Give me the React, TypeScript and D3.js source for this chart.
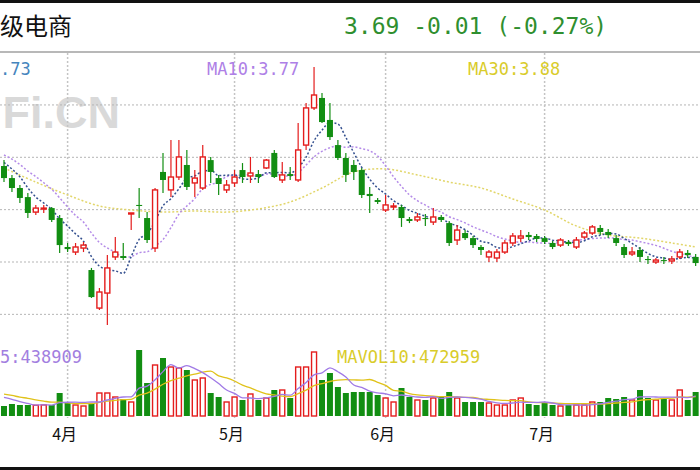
import React from 'react';
import * as d3 from 'd3';

const W = 700;
const H = 470;

// OHLC (price units)
const opens = [4.250, 4.181, 4.124, 4.072, 3.986, 4.004, 4.009, 3.952, 3.786, 3.757,
  3.780, 3.654, 3.436, 3.522, 3.729, 3.734, 3.975, 4.027, 3.952, 3.780,
  4.216, 4.113, 4.187, 4.256, 4.153, 4.124, 4.284, 4.181, 4.113, 4.153,
  4.227, 4.193, 4.204, 4.239, 4.325, 4.170, 4.204, 4.170, 4.370, 4.583,
  4.640, 4.514, 4.370, 4.296, 4.256, 4.227, 4.090, 4.055, 3.998, 4.015,
  4.015, 3.946, 3.941, 3.952, 3.929, 3.958, 3.923, 3.826, 3.866, 3.837,
  3.786, 3.729, 3.723, 3.757, 3.809, 3.837, 3.855, 3.849, 3.837, 3.809,
  3.797, 3.815, 3.786, 3.843, 3.866, 3.895, 3.872, 3.837, 3.786, 3.746,
  3.769, 3.717, 3.700, 3.711, 3.706, 3.729, 3.752, 3.729];
const closes = [4.181, 4.124, 4.067, 3.981, 4.009, 4.009, 3.941, 3.797, 3.774, 3.786,
  3.797, 3.499, 3.528, 3.666, 3.757, 3.723, 3.981, 4.021, 3.826, 4.113,
  4.170, 4.187, 4.302, 4.130, 4.181, 4.302, 4.216, 4.147, 4.141, 4.187,
  4.187, 4.210, 4.187, 4.284, 4.187, 4.199, 4.193, 4.342, 4.583, 4.657,
  4.502, 4.416, 4.296, 4.199, 4.216, 4.084, 4.078, 4.044, 4.027, 4.021,
  3.952, 3.935, 3.958, 3.946, 3.958, 3.941, 3.809, 3.883, 3.837, 3.797,
  3.769, 3.757, 3.757, 3.809, 3.849, 3.849, 3.843, 3.832, 3.815, 3.786,
  3.826, 3.803, 3.826, 3.866, 3.901, 3.872, 3.855, 3.809, 3.740, 3.757,
  3.729, 3.711, 3.711, 3.706, 3.717, 3.757, 3.740, 3.694];
const highs = [4.284, 4.199, 4.141, 4.095, 4.027, 4.027, 4.015, 3.969, 3.809, 3.809,
  3.815, 3.666, 3.551, 3.740, 3.843, 3.809, 3.981, 4.124, 3.986, 4.124,
  4.325, 4.399, 4.399, 4.342, 4.227, 4.370, 4.302, 4.199, 4.170, 4.227,
  4.267, 4.302, 4.227, 4.290, 4.342, 4.273, 4.244, 4.497, 4.611, 4.817,
  4.668, 4.611, 4.399, 4.325, 4.284, 4.239, 4.130, 4.067, 4.084, 4.038,
  4.027, 3.958, 3.981, 3.975, 4.009, 3.969, 3.935, 3.912, 3.883, 3.849,
  3.797, 3.769, 3.774, 3.826, 3.866, 3.883, 3.872, 3.860, 3.849, 3.820,
  3.837, 3.826, 3.843, 3.878, 3.912, 3.912, 3.889, 3.855, 3.803, 3.786,
  3.786, 3.734, 3.723, 3.729, 3.734, 3.774, 3.769, 3.746];
const lows = [4.158, 4.101, 4.038, 3.952, 3.969, 3.981, 3.929, 3.752, 3.757, 3.740,
  3.757, 3.494, 3.425, 3.339, 3.711, 3.711, 3.883, 3.952, 3.809, 3.757,
  4.095, 4.072, 4.170, 4.113, 4.072, 4.113, 4.153, 4.084, 4.095, 4.130,
  4.153, 4.153, 4.153, 4.233, 4.181, 4.153, 4.170, 4.158, 4.342, 4.571,
  4.497, 4.399, 4.284, 4.158, 4.170, 4.067, 3.981, 4.032, 3.986, 3.998,
  3.901, 3.923, 3.929, 3.906, 3.912, 3.929, 3.792, 3.797, 3.826, 3.780,
  3.740, 3.700, 3.700, 3.746, 3.792, 3.815, 3.826, 3.815, 3.803, 3.774,
  3.786, 3.792, 3.774, 3.832, 3.855, 3.855, 3.837, 3.792, 3.723, 3.734,
  3.700, 3.688, 3.688, 3.688, 3.688, 3.717, 3.723, 3.677];
const volumes = [280000, 336000, 308000, 308000, 300000, 310000, 308000, 644000, 364000, 308000,
  280000, 364000, 644000, 644000, 532000, 476000, 392000, 1848000, 924000, 1428000,
  1624000, 1372000, 1344000, 1288000, 1008000, 1064000, 644000, 532000, 392000, 532000,
  448000, 616000, 448000, 504000, 728000, 728000, 504000, 1372000, 1372000, 1792000,
  1008000, 1204000, 812000, 644000, 672000, 672000, 672000, 588000, 504000, 392000,
  784000, 532000, 448000, 448000, 504000, 532000, 672000, 504000, 392000, 392000,
  392000, 364000, 308000, 308000, 448000, 504000, 336000, 308000, 364000, 308000,
  280000, 308000, 308000, 308000, 392000, 392000, 504000, 476000, 532000, 448000,
  728000, 504000, 448000, 504000, 448000, 728000, 448000, 672000];
// sessions before the first visible candle (for moving averages)
const leadCloses = [4.36, 4.38, 4.35, 4.33, 4.36, 4.31, 4.29, 4.30, 4.27];
const leadVolumes = [700000, 760000, 650000, 720000, 680000, 600000, 640000, 560000, 520000];
// MA30 at these sessions
const ma30Idx = [0, 4, 8, 12, 16, 20, 24, 28, 32, 36, 40, 44, 48, 52, 56, 60, 64, 68, 72, 76, 80, 84, 87];
const ma30Vals = [4.239, 4.158, 4.084, 4.021, 3.998, 3.986, 3.992, 3.986, 4.004, 4.044, 4.124, 4.216,
  4.233, 4.199, 4.158, 4.124, 4.061, 3.998, 3.906, 3.855, 3.837, 3.809, 3.786];
const monthIdx = [8, 29, 48, 68];
const monthLabels = ['4月', '5月', '6月', '7月'];
const priceGrid = [3.4, 3.7, 4.0, 4.3, 4.6];

const RED = '#e41c1c';
const GREEN = '#128e12';
const MONO = '"DejaVu Sans Mono", "Liberation Mono", monospace';
const CJK = '"Noto Sans CJK SC", "Noto Sans", sans-serif';

function movingAvg(lead: number[], vals: number[], n: number): number[] {
  const all = [...lead, ...vals];
  const L = lead.length;
  return vals.map((_, i) => d3.mean(all.slice(Math.max(0, i + L - n + 1), i + L + 1)) as number);
}

export default function App() {
  const x = d3.scaleLinear().domain([0, 87]).range([4, 695.65]);
  const y = d3.scaleLinear().domain([3.4, 4.6]).range([314.35, 104.95]);
  const yv = d3.scaleLinear().domain([0, 2000000]).range([416, 344.57]);
  const bw = 5;

  const ma5 = movingAvg(leadCloses, closes, 5);
  const ma10 = movingAvg(leadCloses, closes, 10);
  const mav5 = movingAvg(leadVolumes, volumes, 5);
  const mav10 = movingAvg(leadVolumes, volumes, 10);

  const line = d3.line<number>().x((_, i) => x(i)).y((d) => y(d)).curve(d3.curveMonotoneX);
  const ma30Line = d3.line<number>().x((_, i) => x(ma30Idx[i])).y((d) => y(d)).curve(d3.curveCatmullRom);
  const vline = d3.line<number>().x((_, i) => x(i)).y((d) => yv(d)).curve(d3.curveMonotoneX);

  return (
    <svg width={W} height={H} style={{ position: 'absolute', left: 0, top: 0, background: '#fff' }}>
      <rect x={0} y={0} width={W} height={H} fill="#fff" />
      <rect x={0} y={0} width={W} height={3} fill="#111" />
      <rect x={0} y={467} width={W} height={3} fill="#111" />
      <text x={0} y={35} fontFamily={CJK} fontSize={24} fill="#111">级电商</text>
      <text x={344} y={34} fontFamily={MONO} fontSize={23} fill="#2f8f2f">3.69 -0.01 (-0.27%)</text>
      <line x1={0} x2={W} y1={52} y2={52} stroke="#b8b8b8" strokeWidth={2} />

      {/* watermark */}
      <text x={120} y={128} textAnchor="end" fontFamily='"Liberation Sans", Arial, sans-serif' fontWeight="bold" fontSize={45} fill="#d9d9d9">Fi.CN</text>

      {/* grid */}
      {priceGrid.map((p) => (
        <line key={p} x1={0} x2={W} y1={y(p)} y2={y(p)} stroke="#b5b5b5" strokeWidth={1} strokeDasharray="2 2" />
      ))}
      {monthIdx.map((m) => (
        <line key={m} x1={x(m)} x2={x(m)} y1={53} y2={418} stroke="#c4c4c4" strokeWidth={1.5} strokeDasharray="2 2" />
      ))}

      {/* moving averages */}
      <path d={ma30Line(ma30Vals) || ''} fill="none" stroke="#e2d66a" strokeWidth={1.5} strokeDasharray="2 2" />
      <path d={line(ma10) || ''} fill="none" stroke="#b48be8" strokeWidth={1.5} strokeDasharray="2 2" />
      <path d={line(ma5) || ''} fill="none" stroke="#34508f" strokeWidth={1.5} strokeDasharray="2 2" />

      {/* candles */}
      {closes.map((c, i) => {
        const o = opens[i];
        const up = c >= o;
        const cx = x(i);
        const top = y(Math.max(o, c));
        const bot = y(Math.min(o, c));
        const h = Math.max(1, bot - top);
        if (up) {
          return (
            <g key={i}>
              <line x1={cx} x2={cx} y1={y(highs[i])} y2={top} stroke={RED} strokeWidth={1.2} />
              <line x1={cx} x2={cx} y1={top + h} y2={y(lows[i])} stroke={RED} strokeWidth={1.2} />
              <rect x={cx - bw / 2} y={top} width={bw} height={h} fill="#fff" stroke={RED} strokeWidth={1.4} />
            </g>
          );
        }
        return (
          <g key={i}>
            <line x1={cx} x2={cx} y1={y(highs[i])} y2={y(lows[i])} stroke={GREEN} strokeWidth={1.2} />
            <rect x={cx - bw / 2 - 0.5} y={top} width={bw + 1} height={h} fill={GREEN} />
          </g>
        );
      })}

      {/* volume */}
      {volumes.map((v, i) => {
        const up = closes[i] >= opens[i];
        const cx = x(i);
        const t = yv(v);
        const h = yv(0) - t;
        return up ? (
          <rect key={i} x={cx - bw / 2} y={t} width={bw} height={h} fill="#fff" stroke={RED} strokeWidth={1.4} />
        ) : (
          <rect key={i} x={cx - bw / 2 - 0.5} y={t} width={bw + 1} height={h} fill={GREEN} />
        );
      })}
      <path d={vline(mav10) || ''} fill="none" stroke="#e0c21a" strokeWidth={1.3} />
      <path d={vline(mav5) || ''} fill="none" stroke="#a07ae6" strokeWidth={1.3} />

      {/* legends (the reference crops the left-hand ones) */}
      <text x={0} y={75} fontFamily={MONO} fontSize={17} fill="#4585bd">.73</text>
      <text x={207} y={75} fontFamily={MONO} fontSize={17} fill="#ae80e6">MA10:3.77</text>
      <text x={468} y={75} fontFamily={MONO} fontSize={17} fill="#d9cc2a">MA30:3.88</text>
      <text x={0} y={363} fontFamily={MONO} fontSize={17} fill="#a27ee0">5:438909</text>
      <text x={337} y={363} fontFamily={MONO} fontSize={17} fill="#d9cc2a">MAVOL10:472959</text>

      {/* month labels */}
      {monthIdx.map((m, k) => (
        <text key={m} x={x(m) - 3} y={440} textAnchor="middle" fontFamily={CJK} fontSize={16} fill="#111">{monthLabels[k]}</text>
      ))}
    </svg>
  );
}
